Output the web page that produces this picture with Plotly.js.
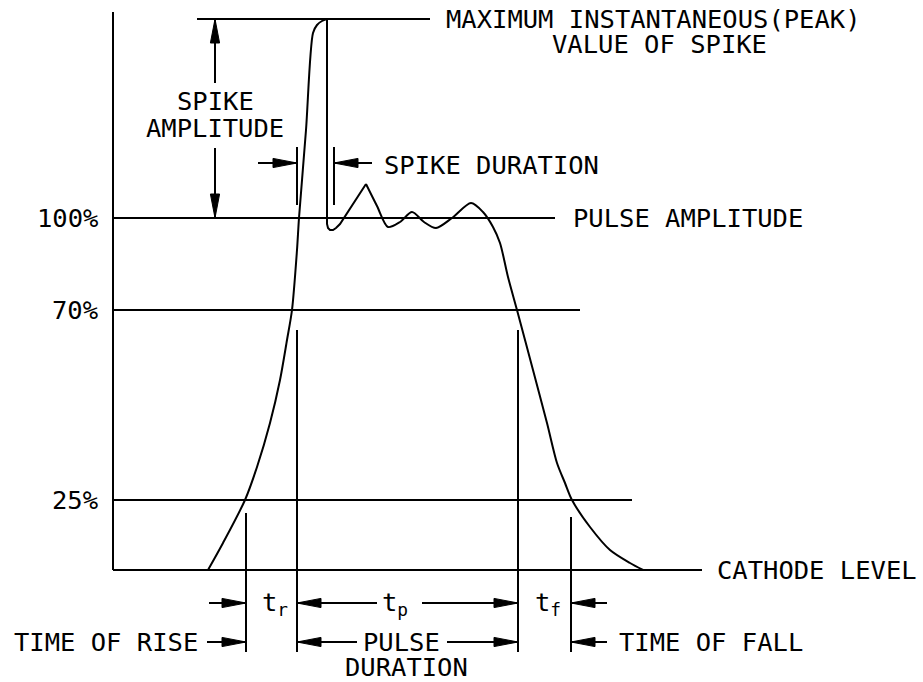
<!DOCTYPE html>
<html>
<head>
<meta charset="utf-8">
<script src="https://cdn.plot.ly/plotly-3.0.1.min.js"></script>
<style>html,body{margin:0;padding:0;background:#fff;}#chart{width:923px;height:682px;}</style>
</head>
<body>
<div id="chart"></div>
<script>
// Pulse waveform (time units, height above cathode level), in three pieces
// Leading edge up to the spike peak
const riseT = [95,110,132,144,157,167,174,179,184,186,193,200,204,209,214];
const riseH = [0,27,70,103,147,190,230,260,320,352,440,537,545,549,551];
// Spike collapse and first overshoot
const dropT = [214,214,215,217,220,223,227,253];
const dropH = [551,346,342,340,340,342,346,386];
// Ringing on the pulse top and trailing edge
const fallT = [253,264,275,287,299,311,323,339,358,370,380,387,395,404,420,434,444,452,459,477,497,517,530];
const fallH = [386,364,343,348,358,348,342,352,367,358,343,327,293,260,200,147,107,87,70,43,20,7,0];

// Reference levels
const levelLabels = ['100%','70%','25%'];
const levelH = [352,260,70];

// Horizontal guide lines
const guideH = [551,352,260,70,0];
const guideStart = [84,0,0,0,0];
const guideEnd = [317,442,467,519,589];
const axisTop = 558;

// Vertical marker lines
const markT = [133,184,405,458,184,221];
const markTop = [57,240,240,53,423,423];
const markBot = [-82,-82,-82,-82,365,365];

// Dimension arrows [tailT, tailH, tipT, tipH]
const arrows = [
  [102,487,102,551],[102,422,102,352],
  [145,407,184,407],[259,407,221,407],
  [96,-33,133,-33],[264,-33,184,-33],[309,-33,405,-33],[494,-33,458,-33],
  [94,-72,133,-72],[244,-72,184,-72],[334,-72,405,-72],[494,-72,458,-72]
];

// Text labels
const labels = [
  {text:'MAXIMUM INSTANTANEOUS(PEAK)', t:331, h:551, anchor:'left'},
  {text:'VALUE OF SPIKE', t:437, h:526, anchor:'left'},
  {text:'SPIKE', t:102, h:469, anchor:'center'},
  {text:'AMPLITUDE', t:102, h:442, anchor:'center'},
  {text:'SPIKE DURATION', t:269, h:405, anchor:'left'},
  {text:'PULSE AMPLITUDE', t:458, h:352, anchor:'left'},
  {text:'CATHODE LEVEL', t:602, h:0, anchor:'left'},
  {text:'TIME OF RISE', t:-101, h:-72, anchor:'left'},
  {text:'TIME OF FALL', t:504, h:-72, anchor:'left'},
  {text:'PULSE', t:288, h:-72, anchor:'center'},
  {text:'DURATION', t:293, h:-97, anchor:'center'},
  {text:'t<sub>r</sub>', t:147, h:-33, anchor:'left'},
  {text:'t<sub>p</sub>', t:267, h:-33, anchor:'left'},
  {text:'t<sub>f</sub>', t:420, h:-33, anchor:'left'}
];

const FONT = {family:'DejaVu Sans Mono', size:25.5, color:'#000'};
const LINE = {color:'#000', width:2};

// Build line segments
const segX = [], segY = [];
function seg(x0,y0,x1,y1){ segX.push(x0,x1,null); segY.push(y0,y1,null); }
seg(0,0,0,axisTop);
guideH.forEach((h,i)=>seg(guideStart[i],h,guideEnd[i],h));
markT.forEach((t,i)=>seg(t,markBot[i],t,markTop[i]));
arrows.forEach(a=>seg(a[0],a[1],a[2],a[3]));

const traces = [
  {x:segX, y:segY, mode:'lines', line:LINE, hoverinfo:'skip'},
  {x:riseT, y:riseH, mode:'lines', line:Object.assign({shape:'spline', smoothing:0.8}, LINE), hoverinfo:'skip'},
  {x:dropT, y:dropH, mode:'lines', line:LINE, hoverinfo:'skip'},
  {x:fallT, y:fallH, mode:'lines', line:Object.assign({shape:'spline', smoothing:0.8}, LINE), hoverinfo:'skip'}
];

// Arrowheads
const L = 24, W = 4.6;
arrows.forEach(a=>{
  const dx = a[2]-a[0], dy = a[3]-a[1];
  const len = Math.hypot(dx,dy);
  const ux = dx/len, uy = dy/len;
  const bx = a[2]-L*ux, by = a[3]-L*uy;
  const nx = -uy, ny = ux;
  traces.push({
    x:[a[2], bx+W*nx, bx-W*nx, a[2]],
    y:[a[3], by+W*ny, by-W*ny, a[3]],
    mode:'lines', fill:'toself', fillcolor:'#000',
    line:{color:'#000', width:1}, hoverinfo:'skip'
  });
});

const annotations = labels.map(l=>({
  text:l.text, x:l.t, y:l.h, xref:'x', yref:'y',
  xanchor:l.anchor, yanchor:'middle', showarrow:false, font:FONT
}));
levelLabels.forEach((lab,i)=>annotations.push({
  text:lab, x:-13, y:levelH[i], xref:'x', yref:'y',
  xanchor:'right', yanchor:'middle', showarrow:false, font:FONT
}));

const layout = {
  width:923, height:682,
  margin:{l:0,r:0,t:0,b:0,pad:0},
  paper_bgcolor:'#fff', plot_bgcolor:'#fff',
  showlegend:false,
  xaxis:{range:[-113,810], visible:false, fixedrange:true},
  yaxis:{range:[-112,570], visible:false, fixedrange:true},
  annotations:annotations
};

Plotly.newPlot('chart', traces, layout, {displayModeBar:false, staticPlot:true});
</script>
</body>
</html>
